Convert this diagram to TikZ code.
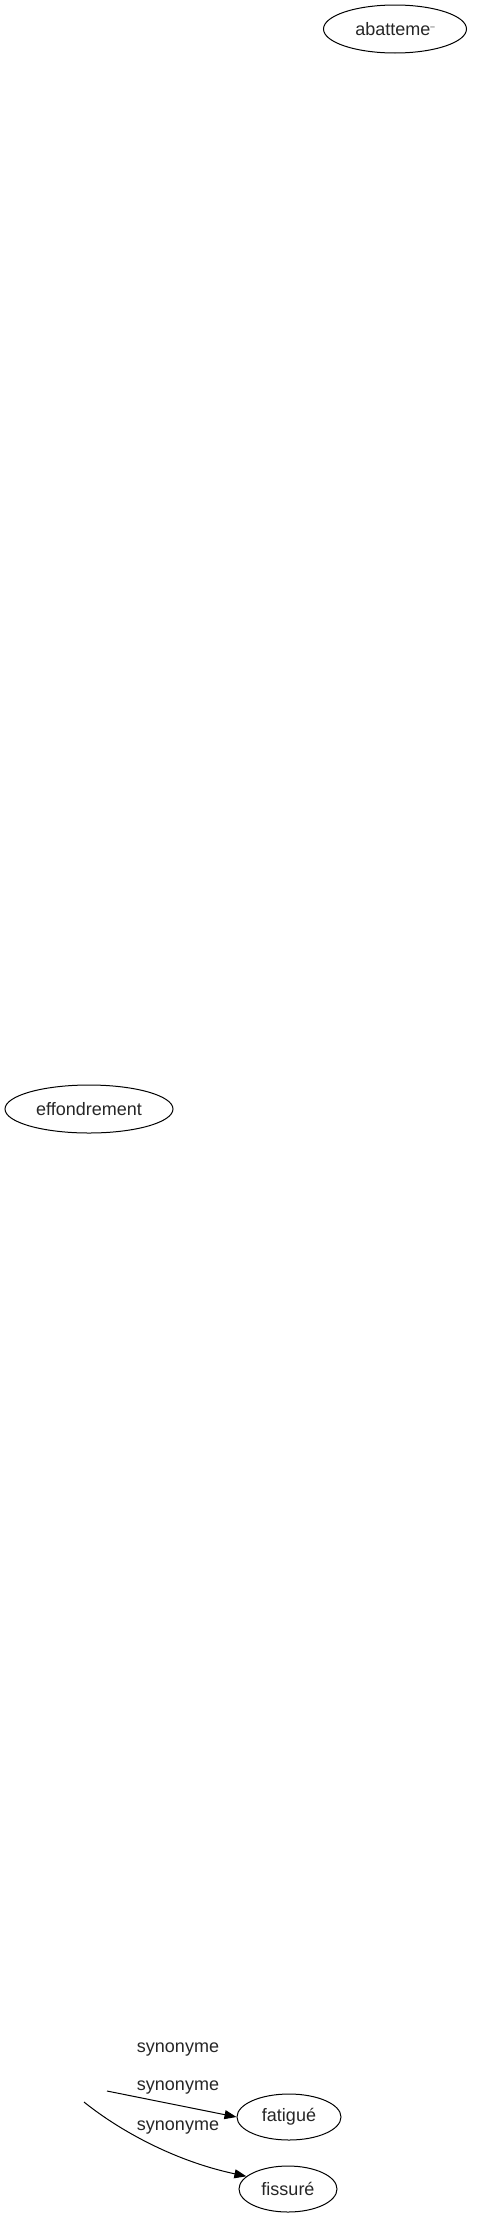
\documentclass[tikz,border=0pt]{standalone}
\usepackage{fontspec}
\setmainfont{Liberation Sans}
\usetikzlibrary{shapes.geometric,arrows.meta}
\tikzset{
  word/.style={draw,ellipse,line width=1pt,inner sep=0pt,minimum height=46pt,font=\fontsize{18}{20}\selectfont,text=black!85},
  rel/.style={font=\fontsize{18}{20}\selectfont,text=black!85},
  syn/.style={-{Triangle[length=12pt,width=9pt]},line width=1pt}
}
\begin{document}
\begin{tikzpicture}[x=1pt,y=-1pt]
    \useasboundingbox (0,0) rectangle (496,2219);
    % nodes
    \node[word,minimum width=143pt,minimum height=48pt] (abatt) at (395,29) {abatteme\raisebox{.6ex}{\footnotesize --}};
    \node[word,minimum width=168pt,minimum height=48pt] (effond) at (89,1109) {effondrement};
    \node[word,minimum width=104pt] (fatig) at (289,2117) {fatigué};
    \node[word,minimum width=98pt] (fiss) at (288,2189) {fissuré};

    % labels
    \node[rel] (lab1) at (178,2049) {synonyme};
    \node[rel] (lab2) at (178,2087) {synonyme};
    \node[rel] (lab3) at (178,2127) {synonyme};

    % edges
    \coordinate (s1) at (107,2091);
    \coordinate (s2) at (84,2102);
    \draw[syn] (s1)--(fatig.west);
    \draw[syn] (s2) .. controls (115,2127) and (170,2160) .. (fiss.163);
\end{tikzpicture}
\end{document}
